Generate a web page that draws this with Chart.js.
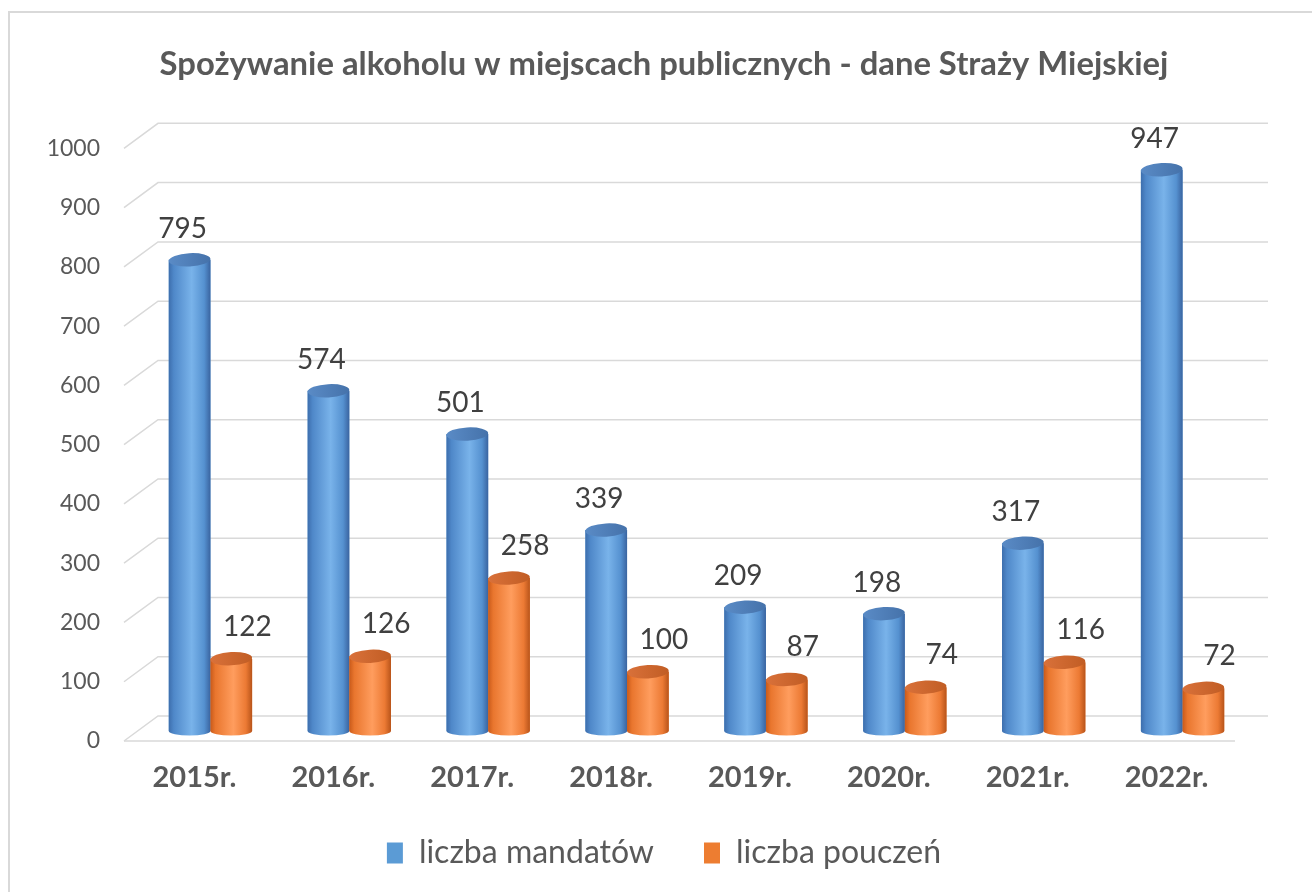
<!DOCTYPE html>
<html>
<head>
<meta charset="utf-8">
<title>Spożywanie alkoholu w miejscach publicznych</title>
<script src="https://cdn.jsdelivr.net/npm/chart.js@4.4.1/dist/chart.umd.min.js"></script>
<style>
  html, body { margin: 0; padding: 0; background: #fff; overflow: hidden; }
  #frame {
    position: absolute; left: 8px; top: 11px; width: 1400px; height: 1000px;
    border-left: 2px solid #d9d9d9; border-top: 2px solid #d9d9d9;
  }
  #myChart { position: absolute; left: 0; top: 0; }
</style>
</head>
<body>
<div id="frame"></div>
<canvas id="myChart" width="1312" height="892"></canvas>
<script>
const categories = ["2015r.", "2016r.", "2017r.", "2018r.", "2019r.", "2020r.", "2021r.", "2022r."];
const mandaty = [795, 574, 501, 339, 209, 198, 317, 947];
const pouczenia = [122, 126, 258, 100, 87, 74, 116, 72];
const yTicks = [0, 100, 200, 300, 400, 500, 600, 700, 800, 900, 1000];

const FONT = "Lato, 'Open Sans', sans-serif";
const GRID = "#d9d9d9";

// back wall + floor, drawn with a fake depth
const grid3d = {
  id: "grid3d",
  beforeDatasetsDraw(chart) {
    const { ctx, chartArea: a, scales: { y } } = chart;
    ctx.save();
    ctx.strokeStyle = GRID;
    ctx.lineWidth = 1.5;
    yTicks.forEach((v) => {
      const py = y.getPixelForValue(v);
      ctx.beginPath();
      ctx.moveTo(a.left - 17, py + 10);
      ctx.lineTo(a.left + 17, py - 15);
      ctx.lineTo(a.right + 16, py - 15);
      ctx.stroke();
    });
    const p0 = y.getPixelForValue(0);
    ctx.beginPath();
    ctx.moveTo(a.left - 17, p0 + 10);
    ctx.lineTo(a.right - 17, p0 + 10);
    ctx.stroke();
    ctx.restore();
  },
};

const looks = [
  {
    body: [[0, "#3d6ead"], [0.12, "#4f88c9"], [0.55, "#79b3ea"], [0.85, "#5591d0"], [1, "#3a64a0"]],
    top: ["#5a8bc6", "#4572aa"],
    dx: -7, dy: -31,
  },
  {
    body: [[0, "#c95a1a"], [0.12, "#e9762e"], [0.55, "#ff9d5e"], [0.85, "#ec7a34"], [1, "#b8541a"]],
    top: ["#d9713a", "#c15d24"],
    dx: 16, dy: -32,
  },
];

function cylinder(ctx, x, top, base, w, look) {
  const rx = w / 2, ry = w * 0.16;
  const g = ctx.createLinearGradient(x - rx, 0, x + rx, 0);
  look.body.forEach(([s, c]) => g.addColorStop(s, c));
  ctx.fillStyle = g;
  ctx.beginPath();
  ctx.moveTo(x - rx, top);
  ctx.lineTo(x - rx, base);
  ctx.ellipse(x, base, rx, w * 0.11, 0, Math.PI, 0, true);
  ctx.lineTo(x + rx, top);
  ctx.closePath();
  ctx.fill();

  const t = ctx.createLinearGradient(x - rx, 0, x + rx, 0);
  t.addColorStop(0, look.top[0]);
  t.addColorStop(1, look.top[1]);
  ctx.fillStyle = t;
  ctx.beginPath();
  ctx.ellipse(x, top, rx, ry, -0.05, 0, Math.PI * 2);
  ctx.fill();
}

const cylinders = {
  id: "cylinders",
  afterDatasetsDraw(chart) {
    const ctx = chart.ctx;
    ctx.save();
    const n = chart.data.labels.length;
    for (let i = 0; i < n; i++) {
      chart.data.datasets.forEach((ds, di) => {
        const bar = chart.getDatasetMeta(di).data[i];
        const { x, y, base, width } = bar.getProps(["x", "y", "base", "width"], true);
        cylinder(ctx, x, y, base, width, looks[di]);
      });
    }
    // value labels
    ctx.font = "28px " + FONT;
    ctx.fillStyle = "#404040";
    ctx.textAlign = "center";
    ctx.textBaseline = "middle";
    chart.data.datasets.forEach((ds, di) => {
      chart.getDatasetMeta(di).data.forEach((bar, i) => {
        ctx.fillText(String(ds.data[i]), bar.x + looks[di].dx, bar.y + looks[di].dy);
      });
    });
    ctx.restore();
  },
};

initChart();

function initChart() {
  const ctx = document.getElementById("myChart").getContext("2d");
  window.chart = new Chart(ctx, {
    type: "bar",
    data: {
      labels: categories,
      datasets: [
        { label: "liczba mandatów", data: mandaty, backgroundColor: "#5b9bd5", borderWidth: 0 },
        { label: "liczba pouczeń", data: pouczenia, backgroundColor: "#ed7d31", borderWidth: 0 },
      ],
    },
    options: {
      responsive: false,
      animation: false,
      devicePixelRatio: 1,
      categoryPercentage: 0.6,
      barPercentage: 1,
      layout: { padding: { left: 16, right: 0, top: 0, bottom: 13 } },
      plugins: {
        title: {
          display: true,
          text: "Spożywanie alkoholu w miejscach publicznych - dane Straży Miejskiej",
          color: "#595959",
          font: { family: FONT, size: 32.8, weight: "bold", lineHeight: 1.2 },
          padding: { top: 45, bottom: 54 },
        },
        legend: {
          position: "bottom",
          labels: {
            color: "#595959",
            font: { family: FONT, size: 32, lineHeight: 1.2 },
            boxWidth: 16,
            boxHeight: 21,
            padding: 50,
          },
        },
        tooltip: { enabled: false },
      },
      scales: {
        x: {
          grid: { display: false, drawTicks: false },
          border: { display: false },
          ticks: {
            color: "#595959",
            font: { family: FONT, size: 29, weight: "bold" },
            padding: 29,
            labelOffset: -16,
          },
          afterFit: (s) => { s.height = 56; },
        },
        y: {
          min: 0,
          max: 1000,
          grid: { display: false, drawTicks: false },
          border: { display: false },
          ticks: {
            stepSize: 100,
            color: "#595959",
            font: { family: FONT, size: 23 },
            padding: 41,
            labelOffset: 10,
            callback: (v) => String(v),
          },
          afterFit: (s) => { s.width = 125; },
        },
        yRight: {
          position: "right",
          grid: { display: false, drawTicks: false },
          border: { display: false },
          ticks: { display: false },
          afterFit: (s) => { s.width = 60; },
        },
      },
    },
    plugins: [grid3d, cylinders],
  });
}
</script>
</body>
</html>
